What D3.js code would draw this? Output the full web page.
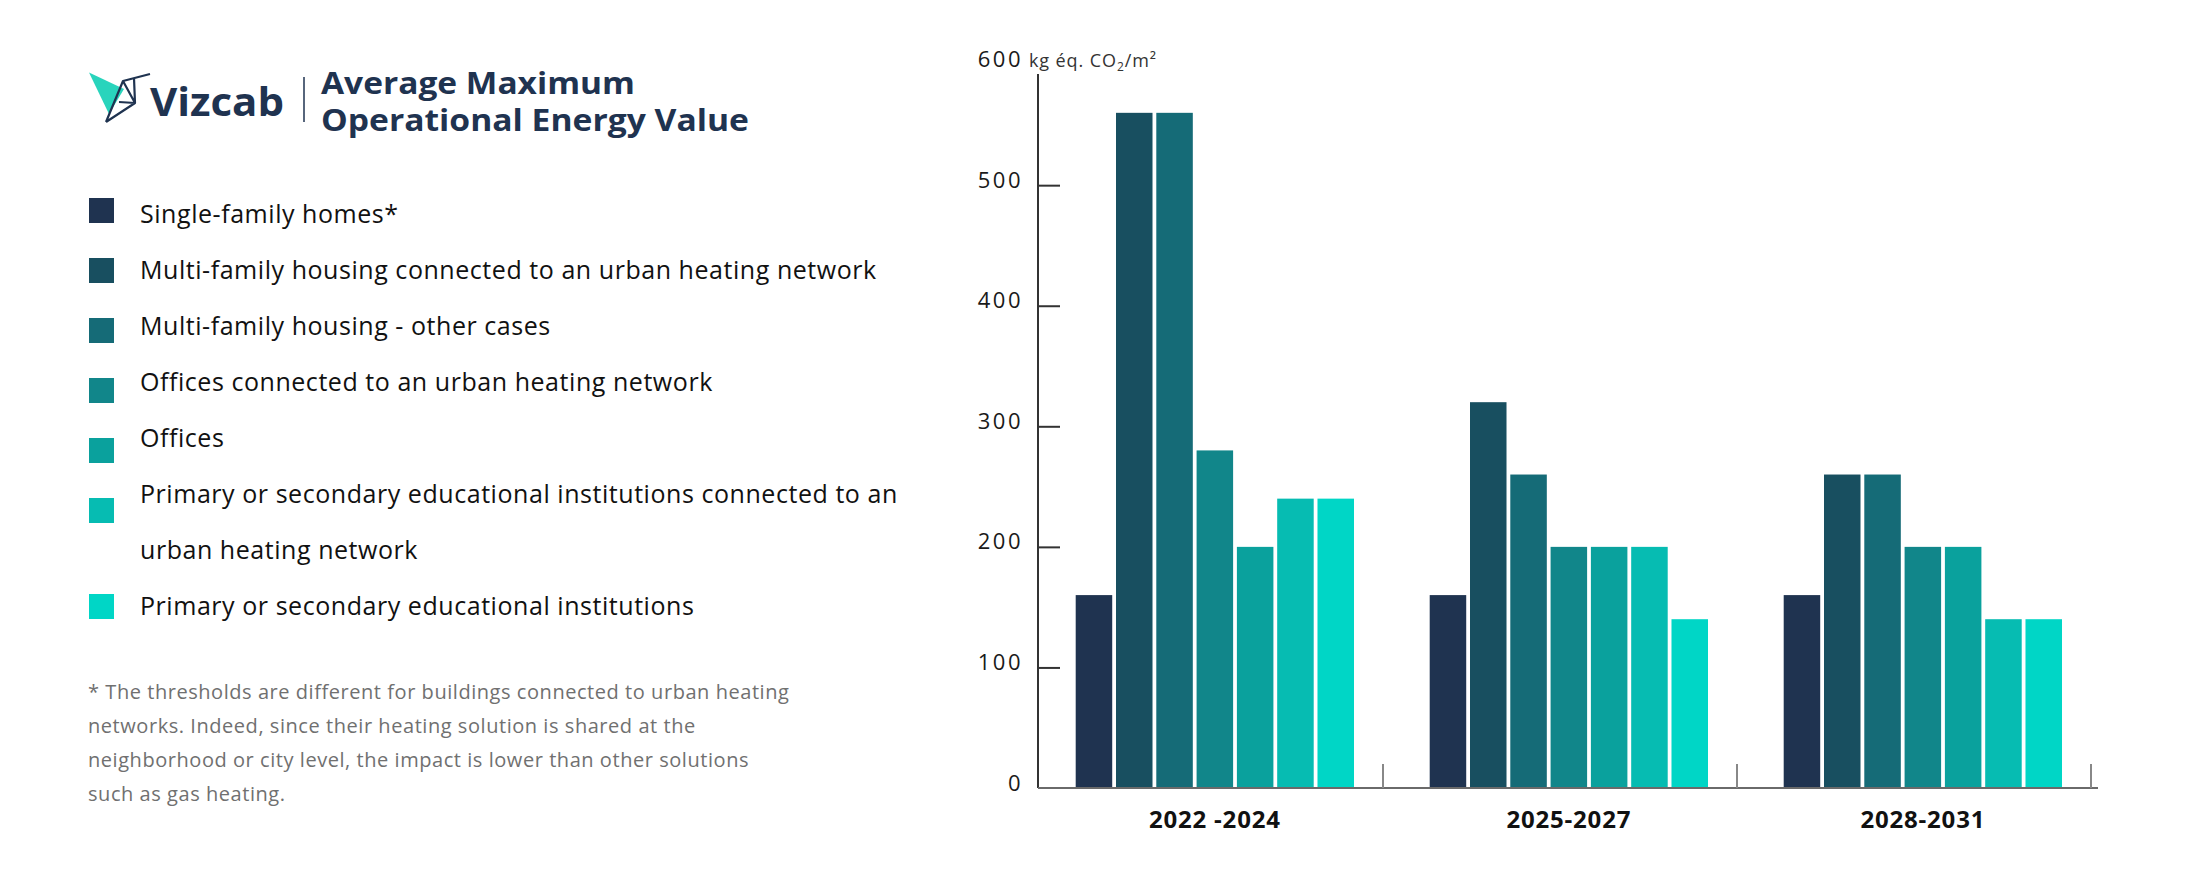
<html>
<head>
	<meta charset="UTF-8">
	<title>Average Maximum Operational Energy Value</title>
	<style>
		body { margin: 0; background: #fff; }
		svg { display: block; font-family: "Open Sans", sans-serif; }
		.tick text { font-family: "Open Sans", sans-serif; font-size: 22px; fill: #1a1a1a; letter-spacing: 2.5px; }
	</style>
</head>
<body>
	<script src="https://cdnjs.cloudflare.com/ajax/libs/d3/7.8.5/d3.min.js"></script>
	<script>
		// data
		var periods = ["2022 -2024", "2025-2027", "2028-2031"];
		var series = [
			"Single-family homes*",
			"Multi-family housing connected to an urban heating network",
			"Multi-family housing - other cases",
			"Offices connected to an urban heating network",
			"Offices",
			"Primary or secondary educational institutions connected to an urban heating network",
			"Primary or secondary educational institutions"
		];
		var values2022 = [160, 560, 560, 280, 200, 240, 240];
		var values2025 = [160, 320, 260, 200, 200, 200, 140];
		var values2028 = [160, 260, 260, 200, 200, 140, 140];
		var yTicks = [0, 100, 200, 300, 400, 500, 600];
		var colors = ["#1f3350", "#184f60", "#156b77", "#11868a", "#0aa19d", "#06bcb2", "#00d6c6"];
		var footnote = [
			"* The thresholds are different for buildings connected to urban heating",
			"networks. Indeed, since their heating solution is shared at the",
			"neighborhood or city level, the impact is lower than other solutions",
			"such as gas heating."
		];

		var valuesByPeriod = [values2022, values2025, values2028];
		var data = periods.map(function(p, i) {
			return { period: p, values: series.map(function(s, j) { return { key: s, idx: j, value: valuesByPeriod[i][j] }; }) };
		});

		var width = 2187, height = 878;
		var svg = d3.select("body").append("svg")
			.attr("width", width)
			.attr("height", height);

		// ---- header: logo + title
		var head = svg.append("g");
		head.append("polygon")
			.attr("points", "89,72.5 124,89 109,114")
			.attr("fill", "#1ed2b8")
			.attr("opacity", 0.95);
		head.append("path")
			.attr("d", "M106,122 L123,81 L150,74 M123,81 L135,103 L106,122 M134,78 L135,103 M119,102 L135,103")
			.attr("fill", "none")
			.attr("stroke", "#1f3350")
			.attr("stroke-width", 2.2)
			.attr("stroke-linejoin", "round");
		head.append("text")
			.attr("x", 150).attr("y", 116)
			.attr("font-size", 39).attr("font-weight", 700)
			.attr("fill", "#1f3350")
			.attr("textLength", 134).attr("lengthAdjust", "spacingAndGlyphs")
			.text("Vizcab");
		head.append("line")
			.attr("x1", 304).attr("x2", 304).attr("y1", 77).attr("y2", 122)
			.attr("stroke", "#1f3350").attr("stroke-width", 1.5);
		head.append("text")
			.attr("x", 321).attr("y", 94)
			.attr("font-size", 30).attr("font-weight", 700).attr("fill", "#1f3350")
			.attr("textLength", 314).attr("lengthAdjust", "spacingAndGlyphs")
			.text("Average Maximum");
		head.append("text")
			.attr("x", 321).attr("y", 131)
			.attr("font-size", 30).attr("font-weight", 700).attr("fill", "#1f3350")
			.attr("textLength", 428).attr("lengthAdjust", "spacingAndGlyphs")
			.text("Operational Energy Value");

		// ---- legend
		var legend = svg.append("g").attr("font-size", 25).attr("letter-spacing", 0.55).attr("fill", "#111");
		var lineH = 56, firstBase = 223, maxW = 790;
		var k = 0;
		series.forEach(function(name, i) {
			var sqY = i < 6 ? 198 + 60 * i : 594;
			legend.append("rect")
				.attr("x", 89).attr("y", sqY)
				.attr("width", 25).attr("height", 25)
				.attr("fill", colors[i]);
			// simple word wrap
			var words = name.split(" "), line = [];
			var t = legend.append("text").attr("x", 140).attr("y", firstBase + k * lineH);
			words.forEach(function(w) {
				line.push(w);
				t.text(line.join(" "));
				if (t.node().getComputedTextLength() > maxW && line.length > 1) {
					line.pop();
					t.text(line.join(" "));
					k++;
					line = [w];
					t = legend.append("text").attr("x", 140).attr("y", firstBase + k * lineH).text(w);
				}
			});
			k++;
		});

		// ---- footnote
		svg.append("g").selectAll("text")
			.data(footnote)
			.enter().append("text")
			.attr("x", 88)
			.attr("y", function(d, i) { return 699 + i * 34; })
			.attr("font-size", 20)
			.attr("letter-spacing", 0.55)
			.attr("fill", "#707070")
			.text(function(d) { return d; });

		// ---- chart
		var x0 = d3.scaleBand().domain(periods).range([1029, 2091]).padding(0);
		var x1 = d3.scaleBand().domain(series).range([46.7, 325]).paddingInner(0.094).paddingOuter(0);
		var y = d3.scaleLinear().domain([0, 600]).range([788, 64.6]);

		var groups = svg.append("g").selectAll("g")
			.data(data)
			.enter().append("g")
			.attr("transform", function(d) { return "translate(" + x0(d.period) + ",0)"; });

		groups.selectAll("rect")
			.data(function(d) { return d.values; })
			.enter().append("rect")
			.attr("x", function(d) { return x1(d.key); })
			.attr("y", function(d) { return y(d.value); })
			.attr("width", x1.bandwidth())
			.attr("height", function(d) { return y(0) - y(d.value); })
			.attr("fill", function(d) { return colors[d.idx]; });

		// y axis
		var yAxis = svg.append("g")
			.attr("transform", "translate(1038,0)")
			.call(d3.axisLeft(y).tickValues(yTicks).tickSizeInner(-22).tickSizeOuter(0).tickPadding(15));
		yAxis.attr("font-family", null);
		yAxis.select(".domain").remove();
		yAxis.selectAll(".tick line").attr("stroke", "#333").attr("stroke-width", 2)
			.filter(function(d) { return d === 600 || d === 0; }).remove();
		yAxis.selectAll(".tick text").attr("dy", null).attr("y", 2);
		yAxis.append("line")
			.attr("x1", 0).attr("x2", 0).attr("y1", 74).attr("y2", y(0))
			.attr("stroke", "#333").attr("stroke-width", 2);

		// unit label
		var unit = svg.append("text")
			.attr("x", 1029).attr("y", 66.5)
			.attr("font-size", 18).attr("letter-spacing", 0.9).attr("fill", "#333");
		unit.append("tspan").text("kg éq. CO");
		unit.append("tspan").attr("font-size", 12).attr("dy", 4).text("2");
		unit.append("tspan").attr("dy", -4).text("/m²");

		// x axis
		var xAxis = svg.append("g");
		xAxis.append("line")
			.attr("x1", 1038).attr("x2", 2098).attr("y1", y(0)).attr("y2", y(0))
			.attr("stroke", "#6a6a6a").attr("stroke-width", 2);
		xAxis.selectAll(".sep")
			.data(periods)
			.enter().append("line")
			.attr("class", "sep")
			.attr("x1", function(d) { return x0(d) + x0.bandwidth(); })
			.attr("x2", function(d) { return x0(d) + x0.bandwidth(); })
			.attr("y1", y(0)).attr("y2", y(0) - 24)
			.attr("stroke", "#888").attr("stroke-width", 2);
		xAxis.selectAll(".lbl")
			.data(periods)
			.enter().append("text")
			.attr("class", "lbl")
			.attr("x", function(d) { return x0(d) + (46.7 + 325) / 2; })
			.attr("y", 828)
			.attr("text-anchor", "middle")
			.attr("font-size", 24)
			.attr("letter-spacing", 0.8)
			.attr("font-weight", 700)
			.attr("fill", "#111")
			.text(function(d) { return d; });
	</script>
</body>
</html>
